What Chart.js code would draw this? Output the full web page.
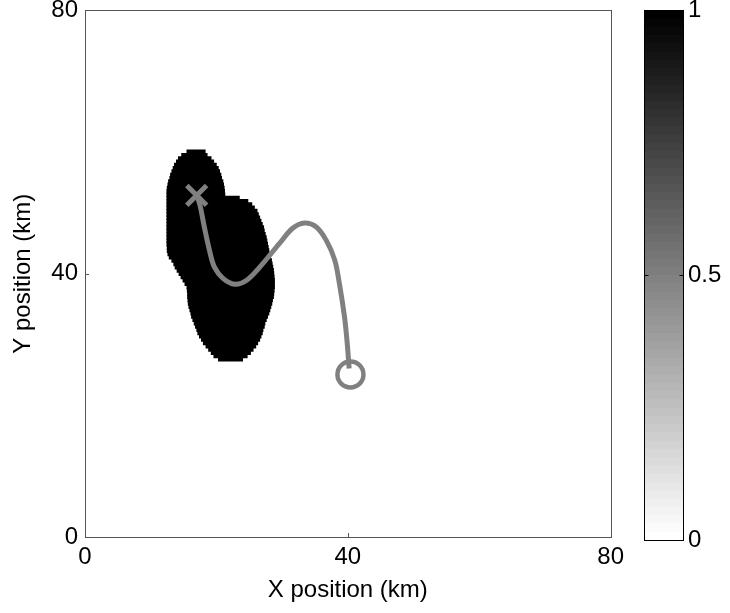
<!DOCTYPE html>
<html>
<head>
<meta charset="utf-8">
<title>Position map</title>
<script src="https://cdn.jsdelivr.net/npm/chart.js@4.4.1/dist/chart.umd.min.js"></script>
<style>
  html, body { margin: 0; padding: 0; background: #fff; overflow: hidden; }
  #wrap { position: relative; width: 730px; height: 613px; overflow: hidden; }
  #mapChart { position: absolute; left: 0; top: -11px; }
  #barChart { position: absolute; left: 625px; top: 0; }
</style>
</head>
<body>
<div id="wrap">
  <canvas id="mapChart" width="630" height="624"></canvas>
  <canvas id="barChart" width="105" height="613"></canvas>
</div>
<script>
// tick labels
const axisTicks = [0, 40, 80];
const colorTicks = [0, 0.5, 1];

// black region (value 1), one row every 0.5 km: row centre, left edge, right edge (km)
const blobRowY = [58.5, 58, 57.5, 57, 56.5, 56, 55.5, 55, 54.5, 54, 53.5, 53, 52.5, 52,
  51.5, 51, 50.5, 50, 49.5, 49, 48.5, 48, 47.5, 47, 46.5, 46, 45.5, 45, 44.5, 44,
  43.5, 43, 42.5, 42, 41.5, 41, 40.5, 40, 39.5, 39, 38.5, 38, 37.5, 37, 36.5, 36,
  35.5, 35, 34.5, 34, 33.5, 33, 32.5, 32, 31.5, 31, 30.5, 30, 29.5, 29, 28.5, 28, 27.5, 27];
const blobLeft = [15.5, 14.7, 14.2, 13.9, 13.6, 13.4, 13.2, 13.0, 12.9, 12.7, 12.6, 12.5, 12.45, 12.45,
  12.45, 12.45, 12.45, 12.45, 12.45, 12.45, 12.45, 12.45, 12.45, 12.45, 12.45, 12.45, 12.45, 12.45, 12.45, 12.5,
  12.5, 12.6, 12.8, 13.2, 13.5, 13.7, 14.0, 14.3, 14.6, 14.9, 15.2, 15.5, 15.55, 15.6, 15.6, 15.65,
  15.7, 15.8, 15.95, 16.1, 16.2, 16.4, 16.6, 16.8, 17.0, 17.15, 17.4, 17.7, 18.0, 18.4, 18.8, 19.2, 19.6, 20.3];
const blobRight = [18.3, 18.6, 19.2, 19.6, 20.0, 20.3, 20.5, 20.7, 20.8, 21.0, 21.1, 21.2, 21.25, 21.3,
  23.5, 24.8, 25.4, 25.8, 26.2, 26.4, 26.6, 26.8, 27.0, 27.2, 27.3, 27.45, 27.6, 27.7, 27.8, 27.9,
  28.0, 28.05, 28.2, 28.4, 28.5, 28.6, 28.7, 28.75, 28.8, 28.85, 28.85, 28.85, 28.8, 28.75, 28.7, 28.55,
  28.45, 28.3, 28.15, 28.0, 27.8, 27.6, 27.4, 27.3, 27.1, 27.0, 26.8, 26.6, 26.3, 26.0, 25.6, 25.2, 24.7, 24.0];

// track, from the start circle to the end cross (km)
const pathX = [40.2, 39.9, 39.5, 38.7, 38.0, 36.7, 35.2, 33.4, 31.6, 29.6, 26.6, 24.6, 22.8, 21.0, 19.7, 19.0, 18.2, 17.5, 17.0];
const pathY = [25.6, 29.5, 33.4, 38.6, 42.1, 45.1, 47.1, 47.7, 46.9, 44.6, 41.0, 39.0, 38.4, 39.3, 41.0, 43.3, 46.9, 50.4, 51.9];
const startPoint = [40.4, 24.7];
const endPoint = [17.0, 51.9];

// colour bar steps (gray colormap, 64 levels)
const colorLevels = 64;

const trackGray = "#808080";
Chart.defaults.font.family = "'Liberation Sans', Arial, Helvetica, sans-serif";
Chart.defaults.color = "#000";

const blobData = blobRowY.map((y, i) => ({ y: y, x: [blobLeft[i], blobRight[i]] }));
const pathData = pathX.map((x, i) => ({ x: x, y: pathY[i] }));

// box round the plot + small inward ticks
const frame = {
  id: "frame",
  afterDraw(chart) {
    const { ctx, chartArea: a, scales } = chart;
    ctx.save();
    ctx.strokeStyle = "#555";
    ctx.lineWidth = 1;
    ctx.strokeRect(Math.round(a.left) + 0.5, Math.round(a.top) + 0.5, Math.round(a.width), Math.round(a.height));
    ctx.beginPath();
    axisTicks.forEach(v => {
      const px = Math.round(scales.x.getPixelForValue(v)) + 0.5;
      ctx.moveTo(px, a.bottom);
      ctx.lineTo(px, a.bottom - 4);
      const py = Math.round(scales.y.getPixelForValue(v)) + 0.5;
      ctx.moveTo(a.left, py);
      ctx.lineTo(a.left + 4, py);
    });
    ctx.stroke();
    ctx.restore();
  }
};

new Chart(document.getElementById("mapChart"), {
  type: "scatter",
  data: {
    datasets: [
      {
        type: "bar",
        indexAxis: "y",
        data: blobData,
        backgroundColor: "#000",
        borderWidth: 0,
        barThickness: 4,
        grouped: false,
        order: 3
      },
      {
        type: "line",
        data: pathData,
        borderColor: trackGray,
        borderWidth: 5,
        tension: 0.35,
        pointRadius: 0,
        fill: false,
        order: 2
      },
      {
        data: [{ x: startPoint[0], y: startPoint[1] }],
        pointStyle: "circle",
        pointRadius: 13,
        pointBorderWidth: 4.5,
        pointBorderColor: trackGray,
        pointBackgroundColor: "rgba(0,0,0,0)",
        order: 1
      },
      {
        data: [{ x: endPoint[0], y: endPoint[1] }],
        pointStyle: "crossRot",
        pointRadius: 14,
        pointBorderWidth: 5,
        pointBorderColor: trackGray,
        order: 1
      }
    ]
  },
  options: {
    responsive: false,
    animation: false,
    events: [],
    layout: { padding: 0 },
    plugins: { legend: { display: false }, tooltip: { enabled: false } },
    scales: {
      x: {
        type: "linear",
        min: 0,
        max: 80,
        offset: false,
        afterBuildTicks: s => { s.ticks = axisTicks.map(v => ({ value: v })); },
        ticks: { font: { size: 24 }, padding: 6, maxRotation: 0, callback: v => String(v) },
        grid: { display: false, drawTicks: false, offset: false },
        border: { display: false },
        title: { display: true, text: "X position (km)", font: { size: 24 }, padding: { top: 0, bottom: 8 } },
        afterFit: s => { s.height = 76; }
      },
      y: {
        type: "linear",
        min: 0,
        max: 80,
        offset: false,
        afterBuildTicks: s => { s.ticks = axisTicks.map(v => ({ value: v })); },
        ticks: { font: { size: 24 }, padding: 7, callback: v => String(v) },
        grid: { display: false, drawTicks: false, offset: false },
        border: { display: false },
        title: { display: true, text: "Y position (km)", font: { size: 24 }, padding: { top: 9, bottom: 0 } },
        afterFit: s => { s.width = 85; }
      }
    }
  },
  plugins: [frame]
});

// colour bar: gray steps placed with the y scale, then box + ticks
const colorBar = {
  id: "colorBar",
  beforeDatasetsDraw(chart) {
    const { ctx, chartArea: a, scales } = chart;
    const top = scales.y.getPixelForValue(1);
    ctx.save();
    for (let i = 0; i < colorLevels; i++) {
      const g = Math.round(255 * (1 - i / (colorLevels - 1)));
      const y0 = scales.y.getPixelForValue(i / colorLevels);
      ctx.fillStyle = `rgb(${g},${g},${g})`;
      ctx.fillRect(a.left, top, a.width, y0 - top);
    }
    ctx.restore();
  },
  afterDraw(chart) {
    const { ctx, chartArea: a, scales } = chart;
    ctx.save();
    ctx.strokeStyle = "#000";
    ctx.lineWidth = 1;
    const l = Math.round(a.left) + 0.5, r = Math.round(a.right) - 0.5;
    ctx.strokeRect(l, Math.round(a.top) + 0.5, r - l, Math.round(a.height));
    ctx.beginPath();
    colorTicks.forEach(v => {
      const py = Math.round(scales.y.getPixelForValue(v)) + 0.5;
      ctx.moveTo(l, py); ctx.lineTo(l + 4, py);
      ctx.moveTo(r, py); ctx.lineTo(r - 4, py);
    });
    ctx.stroke();
    ctx.restore();
  }
};

new Chart(document.getElementById("barChart"), {
  type: "bar",
  data: { labels: ["c"], datasets: [] },
  options: {
    responsive: false,
    animation: false,
    events: [],
    layout: { padding: { top: 10, left: 19, right: 0, bottom: 73 } },
    plugins: { legend: { display: false }, tooltip: { enabled: false } },
    scales: {
      x: { display: false },
      y: {
        position: "right",
        min: 0,
        max: 1,
        afterBuildTicks: s => { s.ticks = colorTicks.map(v => ({ value: v })); },
        ticks: { font: { size: 24 }, padding: 4, callback: v => String(v) },
        grid: { display: false, drawTicks: false },
        border: { display: false },
        afterFit: s => { s.width = 46; s.paddingTop = 0; s.paddingBottom = 0; }
      }
    }
  },
  plugins: [colorBar]
});
</script>
</body>
</html>
